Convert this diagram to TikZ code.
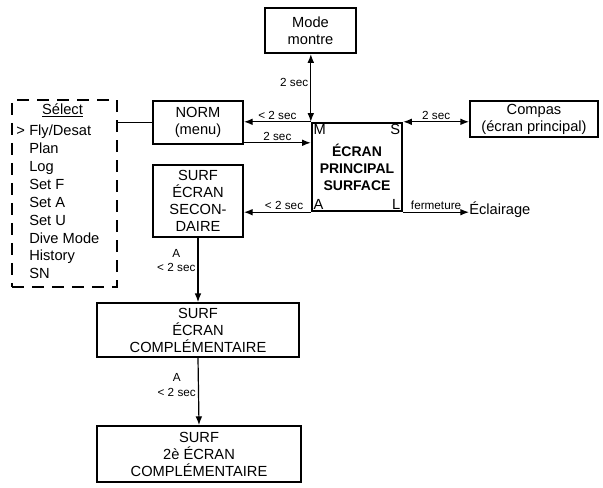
\documentclass[tikz,border=0pt]{standalone}
\usepackage{fontspec}
\setmainfont{Liberation Sans}
\usetikzlibrary{arrows.meta}
\tikzset{
  screen/.style={draw, line width=1.4pt, align=center, inner sep=1pt,
    font=\fontsize{11}{12.75}\selectfont},
  mainscreen/.style={screen, line width=1.8pt,
    font=\bfseries\fontsize{10.5}{12.75}\selectfont},
  corner/.style={inner sep=2pt, font=\fontsize{11}{12}\selectfont},
  lbl/.style={inner sep=1.5pt, font=\fontsize{8.8}{11}\selectfont},
  item/.style={anchor=west, inner sep=0pt, text height=8pt, text depth=2.5pt,
    font=\fontsize{11}{12}\selectfont},
  link/.style={line width=0.9pt, -{Latex[length=6.5pt,width=5pt]}},
  twoway/.style={line width=0.9pt, {Latex[length=6.5pt,width=5pt]}-{Latex[length=6.5pt,width=5pt]}},
}
\begin{document}
\begin{tikzpicture}[x=0.75pt,y=-0.75pt]
  \useasboundingbox (0,0) rectangle (603,487);
  % screens
  \node[screen, minimum width=68pt, minimum height=34pt] (mode) at (310.5,30.5) {Mode\\montre};
  \node[screen, minimum width=67.5pt, minimum height=32pt] (norm) at (198,122.5) {NORM\\(menu)};
  \node[screen, minimum width=67.5pt, minimum height=54pt] (second) at (198,201) {SURF\\ÉCRAN\\SECON-\\DAIRE};
  \node[screen, minimum width=151.5pt, minimum height=40.5pt] (compl) at (198,330) {SURF\\ÉCRAN\\COMPLÉMENTAIRE};
  \node[screen, minimum width=153pt, minimum height=42pt] (compltwo) at (199,454) {SURF\\2è ÉCRAN\\COMPLÉMENTAIRE};
  \node[screen, minimum width=96pt, minimum height=27pt] (compas) at (534,119) {Compas\\(écran principal)};
  \node[mainscreen, minimum width=67.5pt, minimum height=66pt] (main) at (357,167) {ÉCRAN\\PRINCIPAL\\SURFACE};
  \node[corner, anchor=north west] at (main.north west) {M};
  \node[corner, anchor=north east] at (main.north east) {S};
  \node[corner, anchor=south west] at (main.south west) {A};
  \node[corner, anchor=south east] at (main.south east) {L};
  \node[item] (light) at (469,211) {Éclairage};
  % select menu
  \node[draw, line width=1.5pt, dash pattern=on 9pt off 6pt,
    minimum width=79pt, minimum height=140pt] (select) at (64.5,193.5) {};
  \node[item, anchor=center] (seltitle) at (62.5,111) {\underline{Sélect}};
  \node[item] (cursor) at (16,132) {>};
  \foreach \txt [count=\i] in {Fly/Desat, Plan, Log, Set F, Set A, Set U, Dive Mode, History, SN}
    \node[item] (sel\i) at (29,{132+(\i-1)*17.9}) {\txt};
  % connectors
  \draw[line width=0.8pt] (norm.west) -- (norm.west -| select.east);
  \draw[twoway] (main.north west |- mode.south) -- node[lbl, left, pos=0.42] {2 sec} (main.north west);
  \draw[link] (main.north west) -- node[lbl, above] {< 2 sec} (main.north west -| norm.east);
  \draw[link] ([yshift=1.5pt]norm.south east) -- node[lbl, above] {2 sec} ([yshift=1.5pt]norm.south east -| main.west);
  \draw[link] (main.south west) -- node[lbl, above, pos=0.4] {< 2 sec} (main.south west -| second.east);
  \draw[twoway] (main.north east) -- node[lbl, above] {2 sec} (main.north east -| compas.west);
  \draw[link] (main.south east) -- node[lbl, above] {fermeture} (main.south east -| light.west);
  \draw[link] (second.south) -- node[lbl, left, align=center, pos=0.35] {A\\< 2 sec} (compl.north);
  \draw[link] (compl.south) -- node[lbl, left, align=center, pos=0.4] {A\\< 2 sec} (compltwo.north);
\end{tikzpicture}
\end{document}
